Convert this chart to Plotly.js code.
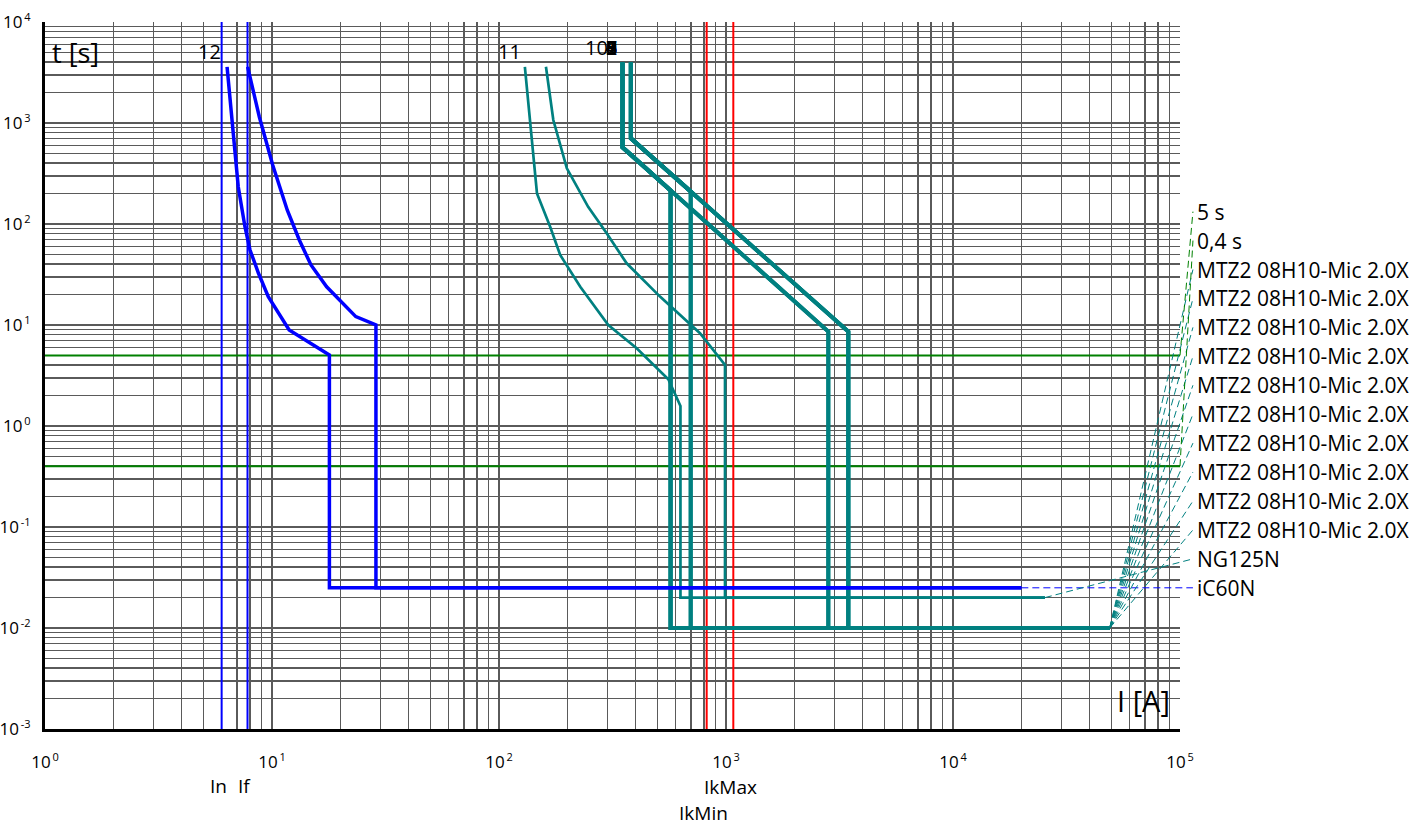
<!DOCTYPE html>
<html><head><meta charset="utf-8">
<script src="https://cdn.plot.ly/plotly-3.0.1.min.js"></script>
<style>html,body{margin:0;padding:0;background:#fff;}</style>
</head><body><div id="chart" style="width:1415px;height:826px;"></div>
<script>
// ---------------- data ----------------
const inCurrent = 6;       // In [A]
const ifCurrent = 7.8;     // If [A]
const ikMinCurrent = 822;  // IkMin [A]
const ikMaxCurrent = 1077; // IkMax [A]
const time5s = 5;          // [s]
const time04s = 0.4;       // [s]

// iC60N (curve 12)
const ic60nMinI = [6.34, 6.65, 7.10, 7.60, 8.0, 8.71, 9.63, 11.9, 17.9, 17.9, 20000];
const ic60nMinT = [3600, 1071, 234, 94, 55.3, 32.7, 19.1, 8.92, 5.05, 0.025, 0.025];
const ic60nMaxI = [7.81, 8.79, 10.07, 11.68, 13.19, 14.85, 17.41, 23.4, 28.7, 28.7, 20000];
const ic60nMaxT = [3600, 1154, 384, 137, 69.5, 39.3, 23.9, 12.1, 10, 0.025, 0.025];

// NG125N (curve 11)
const ng125nMinI = [130, 139, 147, 168, 186, 228, 303, 404, 557, 630, 630, 25400];
const ng125nMinT = [3600, 790, 201, 94, 49.3, 23.9, 10, 5.88, 2.9, 1.58, 0.02, 0.02];
const ng125nMaxI = [161, 173.5, 199, 247, 298, 365, 512, 768, 990, 990, 25400];
const ng125nMaxT = [3600, 1071, 356, 148, 81, 40.8, 19.1, 8.28, 4.02, 0.02, 0.02];

// MTZ2 08H10-Mic 2.0X (curves 1..10)
const mtzMinShortI = [350, 350, 570, 570, 49000];
const mtzMinShortT = [4000, 575, 215, 0.01, 0.01];
const mtzMaxShortI = [381, 381, 699, 699, 49000];
const mtzMaxShortT = [4000, 706, 210, 0.01, 0.01];
const mtzMinLongI = [350, 350, 2823, 2823, 49000];
const mtzMinLongT = [4000, 575, 8.6, 0.01, 0.01];
const mtzMaxLongI = [381, 381, 3458, 3458, 49000];
const mtzMaxLongT = [4000, 706, 8.6, 0.01, 0.01];

const mtzName = 'MTZ2 08H10-Mic 2.0X';
const mtzCurves = [
  [mtzMinShortI, mtzMinShortT], [mtzMaxShortI, mtzMaxShortT],
  [mtzMinLongI, mtzMinLongT],   [mtzMaxLongI, mtzMaxLongT],
  [mtzMinShortI, mtzMinShortT], [mtzMaxShortI, mtzMaxShortT],
  [mtzMinLongI, mtzMinLongT],   [mtzMaxLongI, mtzMaxLongT],
  [mtzMinShortI, mtzMinShortT], [mtzMaxLongI, mtzMaxLongT]
];

// axis decades (tick labels 10^n)
const xDecades = [0, 1, 2, 3, 4, 5];
const yDecades = [-3, -2, -1, 0, 1, 2, 3, 4];

// ---------------- styles ----------------
const BLUE = '#0000ff', TEAL = '#008080', RED = '#ff0000', GREEN = '#008000';
const FONT = 'Open Sans, Noto Sans, sans-serif';

function logTicks(decades) {
  const vals = [], text = [], minor = [];
  for (let i = 0; i < decades.length; i++) {
    const d = decades[i];
    vals.push(Math.pow(10, d));
    text.push('10<sup><span style="font-size:11px">\u2009' + d + '</span></sup>');
    if (i < decades.length - 1) {
      for (let m = 2; m <= 9; m++) minor.push(m * Math.pow(10, d));
    }
  }
  return {vals, text, minor};
}
const xt = logTicks(xDecades), yt = logTicks(yDecades);
const xMin = Math.pow(10, xDecades[0]), xMax = Math.pow(10, xDecades[xDecades.length - 1]);
const yMin = Math.pow(10, yDecades[0]), yMax = Math.pow(10, yDecades[yDecades.length - 1]);

const traces = [];
function line(x, y, color, width, extra) {
  traces.push(Object.assign({type: 'scatter', mode: 'lines', x, y,
    line: {color, width}, hoverinfo: 'skip'}, extra || {}));
}
// reference lines
line([xMin, xMax], [time5s, time5s], GREEN, 2);
line([xMin, xMax], [time04s, time04s], GREEN, 2);
line([ikMinCurrent, ikMinCurrent], [yMin, yMax], RED, 2);
line([ikMaxCurrent, ikMaxCurrent], [yMin, yMax], RED, 2);
line([inCurrent, inCurrent], [yMin, yMax], BLUE, 2);
line([ifCurrent, ifCurrent], [yMin, yMax], BLUE, 2);
// MTZ2 curves
mtzCurves.forEach(c => line(c[0], c[1], TEAL, 4));
// NG125N
line(ng125nMinI, ng125nMinT, TEAL, 2.7);
line(ng125nMaxI, ng125nMaxT, TEAL, 2.7);
// iC60N
line(ic60nMinI, ic60nMinT, BLUE, 3.5);
line(ic60nMaxI, ic60nMaxT, BLUE, 3.5);

// ---------------- leader lines + labels ----------------
const X_DOMAIN_FRAC = 1135 / 1170;               // main plot width / full area width
const X2_RANGE_MAX = xDecades[xDecades.length - 1] / X_DOMAIN_FRAC;
const LABEL_X_LOG = 5.057;
const LABEL_BASE_LOG = Math.log10(ic60nMaxT[ic60nMaxT.length - 1]);
const LABEL_STEP = 0.2865;

const last = a => a[a.length - 1];
const labelItems = [
  {text: 'iC60N', x: last(ic60nMaxI), y: last(ic60nMaxT), color: BLUE},
  {text: 'NG125N', x: last(ng125nMaxI), y: last(ng125nMaxT), color: TEAL}
];
for (let k = mtzCurves.length - 1; k >= 0; k--) {
  labelItems.push({text: mtzName, x: last(mtzCurves[k][0]), y: last(mtzCurves[k][1]), color: TEAL});
}
labelItems.push({text: '0,4 s', x: xMax, y: time04s, color: GREEN});
labelItems.push({text: '5 s', x: xMax, y: time5s, color: GREEN});

const annotations = [];
labelItems.forEach((it, k) => {
  const ly = LABEL_BASE_LOG + k * LABEL_STEP;
  traces.push({type: 'scatter', mode: 'lines', xaxis: 'x2', yaxis: 'y2',
    x: [it.x, Math.pow(10, LABEL_X_LOG)], y: [it.y, Math.pow(10, ly)],
    line: {color: it.color, width: 1, dash: '7px,4px'}, hoverinfo: 'skip'});
  annotations.push({xref: 'x2', yref: 'y2', x: LABEL_X_LOG, y: ly, text: it.text,
    xanchor: 'left', yanchor: 'middle', xshift: 2, showarrow: false,
    font: {size: 21, family: FONT, color: '#000'}});
});

// curve number labels
function numLabel(text, xv, yv, xshift) {
  annotations.push({xref: 'x', yref: 'y', x: Math.log10(xv), y: Math.log10(yv), text,
    xanchor: 'right', yanchor: 'middle', xshift, yshift: 15, showarrow: false,
    font: {size: 20, family: FONT, color: '#000'}});
}
numLabel('12', ic60nMinI[0], ic60nMinT[0], -4);
numLabel('11', ng125nMinI[0], ng125nMinT[0], -2);
numLabel('10', mtzMinShortI[0], mtzMinShortT[0], -13);
for (let n = 1; n <= 9; n++) numLabel(String(n), mtzMinShortI[0], mtzMinShortT[0], -4);

// axis titles inside the plot
annotations.push({xref: 'x', yref: 'y', x: xDecades[0], y: last(yDecades), text: 't [s]',
  xanchor: 'left', yanchor: 'top', xshift: 5, yshift: -10, showarrow: false,
  font: {size: 27, family: FONT, color: '#000'}});
annotations.push({xref: 'x', yref: 'y', x: last(xDecades), y: yDecades[0], text: 'I [A]',
  xanchor: 'right', yanchor: 'bottom', xshift: -8, yshift: 7, showarrow: false,
  font: {size: 29, family: FONT, color: '#000'}});

// markers below the x axis
function belowLabel(text, xv, yshift) {
  annotations.push({xref: 'x', yref: 'paper', x: Math.log10(xv), y: 0, text,
    xanchor: 'center', yanchor: 'middle', xshift: -3, yshift, showarrow: false,
    font: {size: 19, family: FONT, color: '#000'}});
}
belowLabel('In', inCurrent, -57);
belowLabel('If', ifCurrent, -57);
belowLabel('IkMax', ikMaxCurrent, -58);
belowLabel('IkMin', ikMinCurrent, -84);

const GRID = {color: '#5a5a5a', width: 1.4};
const axisCommon = {type: 'log', tickmode: 'array', showgrid: true, gridcolor: GRID.color,
  gridwidth: GRID.width, showline: true, linecolor: '#000', linewidth: 3, ticks: '',
  zeroline: false, fixedrange: true, tickfont: {size: 17, family: FONT, color: '#000'}};

const layout = {
  width: 1415, height: 826,
  margin: {l: 45, r: 200, t: 22, b: 97, pad: 0},
  paper_bgcolor: '#fff', plot_bgcolor: 'rgba(0,0,0,0)',
  showlegend: false,
  font: {family: FONT, color: '#000'},
  xaxis: Object.assign({}, axisCommon, {range: [xDecades[0], last(xDecades)],
    domain: [0, X_DOMAIN_FRAC], tickvals: xt.vals, ticktext: xt.text, anchor: 'y',
    ticklabelstandoff: 16,
    minor: {tickmode: 'array', tickvals: xt.minor, showgrid: true, gridcolor: GRID.color,
      gridwidth: GRID.width, ticks: ''}}),
  yaxis: Object.assign({}, axisCommon, {range: [yDecades[0], last(yDecades)],
    domain: [0, 1], tickvals: yt.vals, ticktext: yt.text, anchor: 'x',
    ticklabelstandoff: 8,
    minor: {tickmode: 'array', tickvals: yt.minor, showgrid: true, gridcolor: GRID.color,
      gridwidth: GRID.width, ticks: ''}}),
  xaxis2: {type: 'log', range: [xDecades[0], X2_RANGE_MAX], domain: [0, 1], anchor: 'y2',
    visible: false, fixedrange: true},
  yaxis2: {type: 'log', range: [yDecades[0], last(yDecades)], domain: [0, 1], anchor: 'x2',
    visible: false, fixedrange: true},
  annotations
};

Plotly.newPlot('chart', traces, layout, {displayModeBar: false, staticPlot: true});
</script></body></html>
